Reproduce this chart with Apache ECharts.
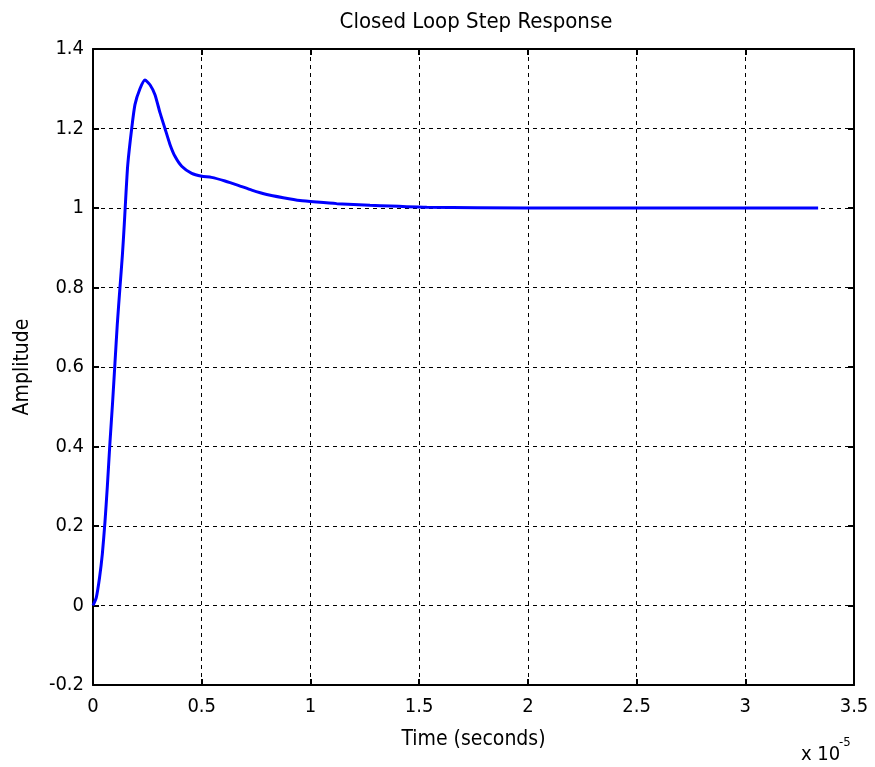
<!DOCTYPE html>
<html>
<head>
<meta charset="utf-8">
<script src="https://cdn.jsdelivr.net/npm/echarts@6/dist/echarts.min.js"></script>
<style>
  html, body { margin: 0; padding: 0; background: #fff; }
  #chart { width: 875px; height: 767px; }
</style>
</head>
<body>
<div id="chart"></div>
<script>
// time in units of 1e-5 s, amplitude
const timeVals = [0, 0.015, 0.03, 0.043, 0.055, 0.066, 0.078, 0.090, 0.101, 0.112, 0.124, 0.135,
  0.144, 0.152, 0.160, 0.178, 0.193, 0.216, 0.239, 0.262, 0.285, 0.308, 0.331, 0.354, 0.377,
  0.408, 0.454, 0.500, 0.545, 0.607, 0.668, 0.730, 0.799, 0.875, 0.952, 1.029, 1.121, 1.274,
  1.535, 2.0, 2.5, 3.0, 3.335]
const amplitude = [0, 0.02, 0.07, 0.13, 0.21, 0.30, 0.41, 0.51, 0.61, 0.71, 0.80, 0.88,
  0.96, 1.04, 1.11, 1.20, 1.26, 1.30, 1.322, 1.31, 1.285, 1.24, 1.20, 1.16, 1.13,
  1.105, 1.087, 1.08, 1.077, 1.068, 1.057, 1.045, 1.034, 1.026, 1.019, 1.015, 1.011, 1.007,
  1.002, 1.0, 1.0, 1.0, 1.0]
const xTicks = [0, 0.5, 1, 1.5, 2, 2.5, 3, 3.5]
const yTicks = [-0.2, 0, 0.2, 0.4, 0.6, 0.8, 1, 1.2, 1.4]

const font = "'DejaVu Sans Condensed', 'Liberation Sans', Arial, sans-serif"
const chart = echarts.init(document.getElementById('chart'))

const points = timeVals.map((t, i) => [t, amplitude[i]])

function fmt(v) {
  return String(Math.round(v * 10) / 10)
}

const gridLine = {
  show: true,
  lineStyle: { color: '#000', width: 1, type: [4, 4] }
}
const boxLine = { show: true, onZero: false, lineStyle: { color: '#000', width: 2 } }
const inTick = { show: true, inside: true, length: 6, lineStyle: { color: '#000', width: 2 } }

chart.setOption({
  animation: false,
  title: {
    text: 'Closed Loop Step Response',
    left: 471,
    textAlign: 'center',
    top: 6,
    textStyle: { fontFamily: font, fontSize: 22, fontWeight: 'normal', color: '#000' }
  },
  grid: { left: 93, right: 21, top: 49, bottom: 82 },
  xAxis: [{
    type: 'value',
    min: xTicks[0],
    max: xTicks[xTicks.length - 1],
    interval: 0.5,
    name: 'Time (seconds)',
    nameLocation: 'middle',
    nameGap: 44,
    nameTextStyle: { fontFamily: font, fontSize: 21, color: '#000' },
    axisLine: boxLine,
    axisTick: inTick,
    axisLabel: { fontFamily: font, fontSize: 20, color: '#000', margin: 12, formatter: fmt },
    splitLine: gridLine
  }, {
    type: 'value',
    position: 'top',
    min: xTicks[0],
    max: xTicks[xTicks.length - 1],
    interval: 0.5,
    axisLine: boxLine,
    axisTick: inTick,
    axisLabel: { show: false },
    splitLine: { show: false }
  }],
  yAxis: [{
    type: 'value',
    min: yTicks[0],
    max: yTicks[yTicks.length - 1],
    interval: 0.2,
    name: 'Amplitude',
    nameLocation: 'middle',
    nameGap: 60,
    nameTextStyle: { fontFamily: font, fontSize: 21, color: '#000' },
    axisLine: boxLine,
    axisTick: inTick,
    axisLabel: { fontFamily: font, fontSize: 20, color: '#000', margin: 9, formatter: fmt },
    splitLine: gridLine
  }, {
    type: 'value',
    position: 'right',
    min: yTicks[0],
    max: yTicks[yTicks.length - 1],
    interval: 0.2,
    axisLine: boxLine,
    axisTick: inTick,
    axisLabel: { show: false },
    splitLine: { show: false }
  }],
  graphic: [{
    type: 'text',
    left: 801,
    top: 745,
    style: { text: 'x 10', font: '20px ' + font, fill: '#000' }
  }, {
    type: 'text',
    left: 839,
    top: 736,
    style: { text: '-5', font: '13px ' + font, fill: '#000' }
  }],
  series: [{
    type: 'line',
    data: points,
    showSymbol: false,
    smooth: 0.2,
    lineStyle: { color: '#0000ff', width: 3 },
    xAxisIndex: 0,
    yAxisIndex: 0
  }]
})
</script>
</body>
</html>
